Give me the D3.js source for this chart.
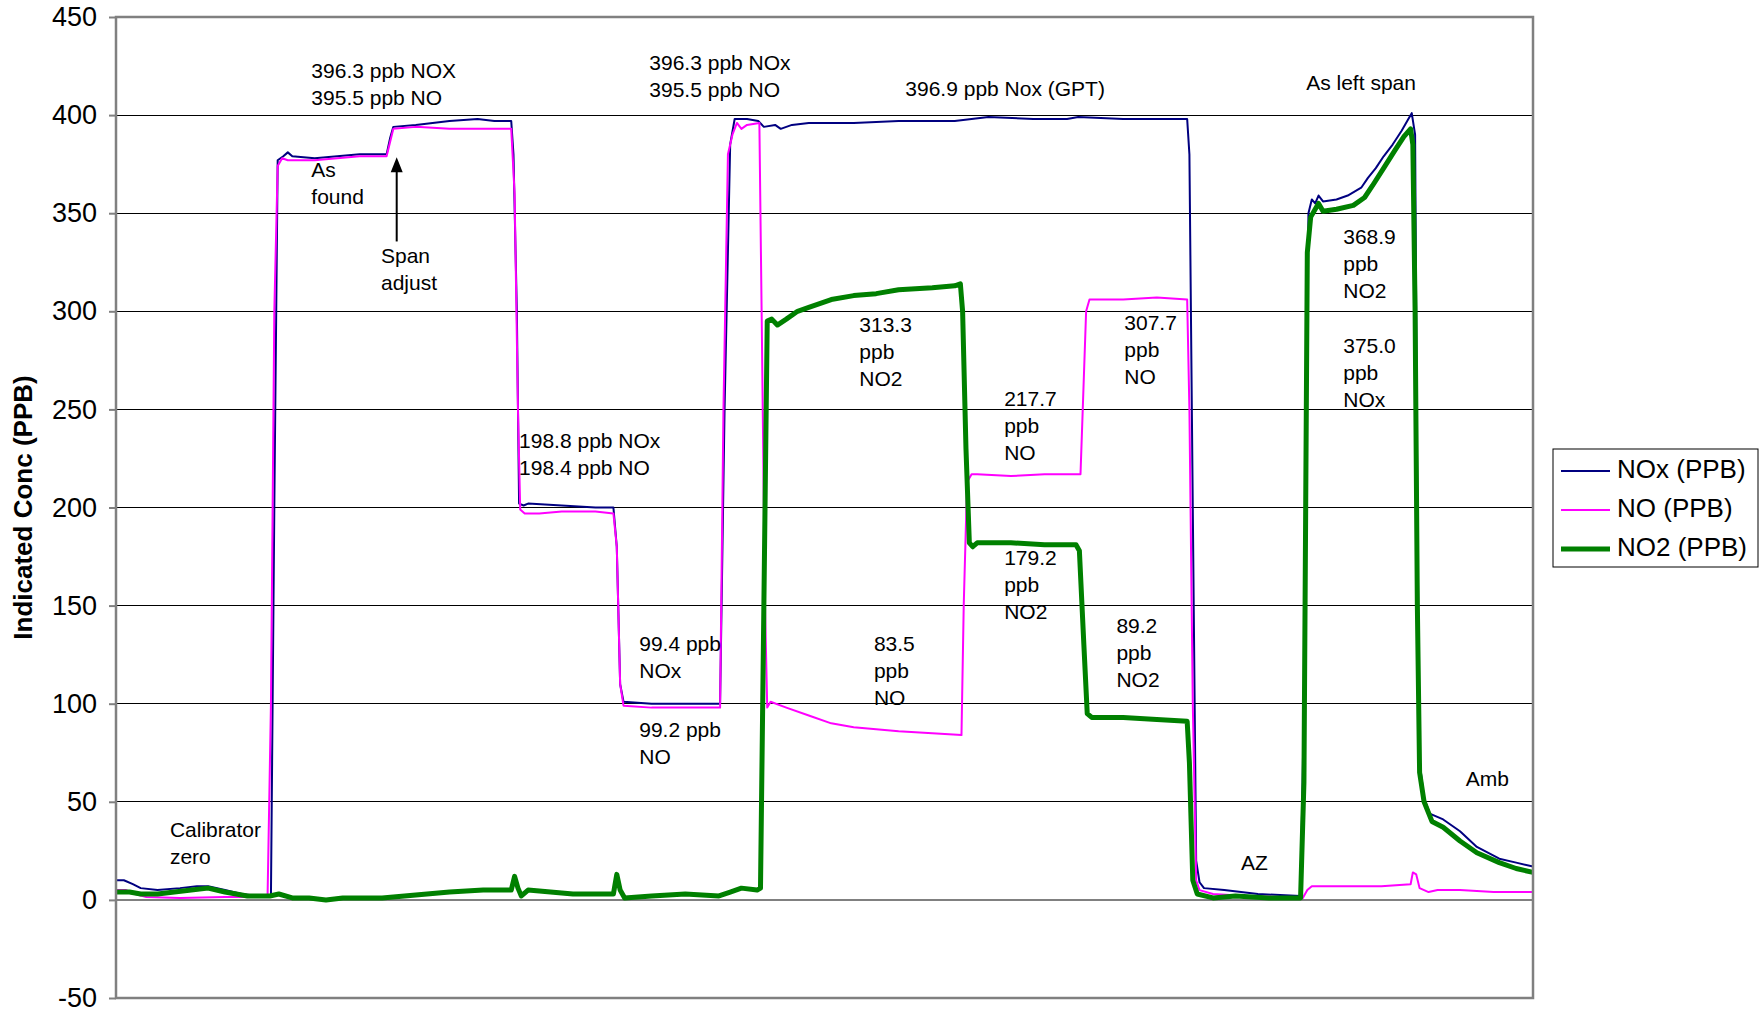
<!DOCTYPE html>
<html>
<head>
<meta charset="utf-8">
<script src="https://cdn.jsdelivr.net/npm/d3@7"></script>
<style>
  body { margin: 0; background: #fff; }
  svg text { font-family: "Liberation Sans", Arial, sans-serif; }
</style>
</head>
<body>
<div id="chart"></div>
<script>
// readings, sample index along the run (no time labels on the original)
var noxT = [0,7,15,22,37,57,72,82,97,112,127,138,141,144,149,153,157,177,197,217,241,244,247,267,297,322,337,352,354,357,359,363,367,397,427,443,446,449,452,477,507,538,542,547,551,562,572,577,587,592,602,617,657,697,747,777,817,847,857,897,927,954,956,959,962,965,969,987,1017,1055,1058,1062,1065,1068,1071,1075,1087,1097,1109,1115,1122,1129,1137,1145,1151,1154,1157,1159,1161,1165,1170,1182,1197,1212,1232,1247,1262];
var noxV = [10,10,8,6,5,6,7,7,5,3,2,2,200,377,379,381,379,378,379,380,380,388,394,395,397,398,397,397,380,300,202,201,202,201,200,200,180,110,101,100,100,100,250,385,398,398,397,394,395,393,395,396,396,397,397,399,398,398,399,398,398,398,380,200,20,9,6,5,3,2,100,350,357,355,359,356,357,359,363,368,373,379,385,392,398,401,390,200,70,52,44,41,35,27,21,19,17];

var noT = [0,9,17,27,57,97,122,135,138,141,144,148,153,177,197,217,241,244,247,267,297,327,352,355,358,360,364,367,377,397,427,443,446,449,452,477,507,538,541,545,549,553,557,562,573,575,578,580,583,597,617,637,657,677,697,727,753,755,758,762,767,797,827,859,861,864,867,877,897,927,954,956,959,962,965,977,1007,1057,1061,1065,1097,1127,1153,1155,1158,1161,1169,1177,1197,1227,1262];
var noV = [5,5,3,1.5,1,1.5,1.5,2,100,300,374,378,377,377,378,379,379,386,393,394,393,393,393,360,250,199,197,197,197,198,198,197,180,110,99,98,98,98,250,380,390,396,393,395,396,300,150,98,101,98,94,90,88,87,86,85,84,150,213,217,217,216,217,217,250,300,306,306,306,307,306,250,100,10,5,3,2,1,5,7,7,7,8,14,13,6,4,5,5,4,4];

var no2T = [0,12,22,37,52,67,82,97,117,137,145,157,172,187,202,217,237,257,277,297,327,352,355,358,361,367,387,407,437,443,446,449,453,477,507,537,547,557,571,574,577,580,584,589,597,607,617,637,657,677,697,727,747,752,754,757,760,763,767,797,827,855,858,862,865,869,897,927,954,956,959,963,977,997,1027,1055,1058,1061,1064,1068,1071,1075,1087,1102,1112,1119,1129,1139,1147,1153,1155,1157,1159,1161,1165,1172,1182,1197,1212,1232,1247,1262];
var no2V = [4,4,3,3,4,5,6,4,2,2,3,1,1,0,1,1,1,2,3,4,5,5,12,6,2,5,4,3,3,3,13,5,1,2,3,2,4,6,5,6,150,295,296,293,296,300,302,306,308,309,311,312,313,314,300,230,182,180,182,182,181,181,178,130,95,93,93,92,91,70,10,3,1,2,1,1,60,330,348,352,355,351,352,354,358,364,373,382,389,393,385,300,150,65,50,40,37,30,24,19,16,14];

var seriesNames = ["NOx (PPB)", "NO (PPB)", "NO2 (PPB)"];
var yTicks = [-50,0,50,100,150,200,250,300,350,400,450];

// text notes on the plot: [sample, ppb of first line, lines]
var notes = [
  [174, 422.0, ["396.3 ppb NOX", "395.5 ppb NO"]],
  [174, 371.6, ["As", "found"]],
  [236, 327.6, ["Span", "adjust"]],
  [475, 426.0, ["396.3 ppb NOx", "395.5 ppb NO"]],
  [703, 412.8, ["396.9 ppb Nox (GPT)"]],
  [1060, 415.7, ["As left span"]],
  [662, 292.7, ["313.3", "ppb", "NO2"]],
  [898, 293.3, ["307.7", "ppb", "NO"]],
  [1093, 337.3, ["368.9", "ppb", "NO2"]],
  [1093, 281.9, ["375.0", "ppb", "NOx"]],
  [791, 255.0, ["217.7", "ppb", "NO"]],
  [359, 233.3, ["198.8 ppb NOx", "198.4 ppb NO"]],
  [791, 173.8, ["179.2", "ppb", "NO2"]],
  [466, 129.8, ["99.4 ppb", "NOx"]],
  [675, 129.8, ["83.5", "ppb", "NO"]],
  [891, 138.9, ["89.2", "ppb", "NO2"]],
  [466, 86.3, ["99.2 ppb", "NO"]],
  [48, 34.9, ["Calibrator", "zero"]],
  [1002, 18.3, ["AZ"]],
  [1202, 61.2, ["Amb"]]
];

var margin = {top: 17, right: 228, bottom: 16, left: 116},
    width = 1761 - margin.left - margin.right,
    height = 1014 - margin.top - margin.bottom;

var svg = d3.select("#chart")
  .append("svg")
    .attr("width", 1761)
    .attr("height", 1014)
  .append("g")
    .attr("transform", "translate(" + margin.left + "," + margin.top + ")");

var x = d3.scaleLinear()
  .domain([0, 1262])
  .range([0, width]);

var y = d3.scaleLinear()
  .domain([-50, 450])
  .range([height, 0]);

// gridlines
svg.selectAll("line.grid")
  .data(yTicks)
  .enter()
  .append("line")
    .attr("class", "grid")
    .attr("x1", 0)
    .attr("x2", width)
    .attr("y1", function(d) { return y(d); })
    .attr("y2", function(d) { return y(d); })
    .attr("stroke", function(d) { return d === 0 ? "#808080" : "#000"; })
    .attr("stroke-width", function(d) { return d === 0 ? 2 : 1; })
    .attr("shape-rendering", "crispEdges");

// Y axis
var yAxis = svg.append("g")
  .call(d3.axisLeft(y).tickValues(yTicks).tickSize(7).tickPadding(12)
    .tickFormat(function(d) { return String(d); }));
yAxis.select(".domain").remove();
yAxis.selectAll("line").attr("stroke", "#808080").attr("stroke-width", 2);
yAxis.selectAll("text")
  .style("font-size", "27px")
  .attr("fill", "#000");

svg.append("text")
  .attr("transform", "translate(" + (25 - margin.left) + "," + (height / 2) + ")rotate(-90)")
  .attr("text-anchor", "middle")
  .attr("dominant-baseline", "middle")
  .style("font-size", "26px")
  .style("font-weight", "bold")
  .text("Indicated Conc (PPB)");

// lines
var line = d3.line()
  .x(function(d) { return x(d[0]); })
  .y(function(d) { return y(d[1]); });

var series = [
  {name: seriesNames[0], t: noxT, v: noxV, color: "#000080", w: 2},
  {name: seriesNames[1], t: noT, v: noV, color: "#ff00ff", w: 2},
  {name: seriesNames[2], t: no2T, v: no2V, color: "#008000", w: 5}
];

series.forEach(function(s) {
  var pts = s.t.map(function(t, k) { return [t, s.v[k]]; });
  svg.append("path")
    .datum(pts)
    .attr("fill", "none")
    .attr("stroke", s.color)
    .attr("stroke-width", s.w)
    .attr("stroke-linejoin", "round")
    .attr("d", line);
});

// plot frame
svg.append("rect")
  .attr("x", 0)
  .attr("y", 0)
  .attr("width", width)
  .attr("height", height)
  .attr("fill", "none")
  .attr("stroke", "#808080")
  .attr("stroke-width", 2.5);

// notes
var lh = 27;
notes.forEach(function(n) {
  var t = svg.append("text")
    .attr("x", x(n[0]))
    .attr("y", y(n[1]))
    .attr("dominant-baseline", "middle")
    .style("font-size", "21px")
    .attr("fill", "#000");
  n[2].forEach(function(s, i) {
    t.append("tspan")
      .attr("x", x(n[0]))
      .attr("dy", i === 0 ? 0 : lh)
      .text(s);
  });
});

// span adjust arrow
var ax = x(250), aTop = y(378.5), aBot = y(335.6);
svg.append("line")
  .attr("x1", ax).attr("x2", ax)
  .attr("y1", aBot).attr("y2", aTop + 12)
  .attr("stroke", "#000")
  .attr("stroke-width", 2);
svg.append("path")
  .attr("d", "M" + ax + "," + aTop + "L" + (ax - 6) + "," + (aTop + 15) + "L" + (ax + 6) + "," + (aTop + 15) + "Z")
  .attr("fill", "#000");

// legend
var legend = svg.append("g")
  .attr("transform", "translate(" + (width + 20) + "," + (449 - margin.top) + ")");
legend.append("rect")
  .attr("width", 205)
  .attr("height", 118)
  .attr("fill", "#fff")
  .attr("stroke", "#000")
  .attr("stroke-width", 1);
series.forEach(function(s, i) {
  var ly = 22 + i * 39;
  legend.append("line")
    .attr("x1", 8).attr("x2", 57)
    .attr("y1", ly).attr("y2", ly)
    .attr("stroke", s.color)
    .attr("stroke-width", s.w);
  legend.append("text")
    .attr("x", 64)
    .attr("y", ly)
    .attr("dominant-baseline", "middle")
    .style("font-size", "26px")
    .text(s.name);
});
</script>
</body>
</html>
